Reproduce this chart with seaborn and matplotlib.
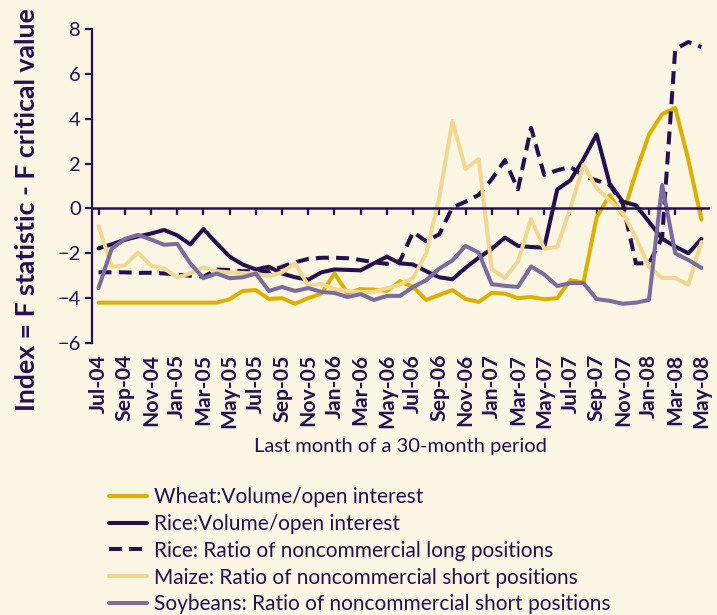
import numpy as np
import pandas as pd
import seaborn as sns
import matplotlib.pyplot as plt

# ---------------- data ----------------
tick_labels = ["Jul-04", "Sep-04", "Nov-04", "Jan-05", "Mar-05", "May-05",
               "Jul-05", "Sep-05", "Nov-05", "Jan-06", "Mar-06", "May-06",
               "Jul-06", "Sep-06", "Nov-06", "Jan-07", "Mar-07", "May-07",
               "Jul-07", "Sep-07", "Nov-07", "Jan-08", "Mar-08", "May-08"]

wheat_vol = [-4.2, -4.2, -4.2, -4.2, -4.2, -4.2, -4.2, -4.2, -4.2, -4.2,
             -4.05, -3.68, -3.64, -4.04, -4.0, -4.25, -4.0, -3.8, -2.9, -3.77,
             -3.6, -3.62, -3.68, -3.25, -3.5, -4.08, -3.86, -3.64, -4.04, -4.17,
             -3.77, -3.8, -4.0, -3.95, -4.05, -4.0, -3.2, -3.3, -0.4, 0.59,
             -0.3, 1.6, 3.3, 4.2, 4.48, 2.17, -0.5]

rice_vol = [-1.78, -1.6, -1.4, -1.25, -1.12, -0.96, -1.2, -1.6, -0.92, -1.55,
            -2.15, -2.5, -2.72, -2.6, -2.9, -3.07, -3.18, -2.85, -2.72, -2.74,
            -2.76, -2.45, -2.15, -2.45, -2.5, -2.8, -3.07, -3.16, -2.65, -2.2,
            -1.8, -1.3, -1.67, -1.72, -1.75, 0.85, 1.25, 2.2, 3.3, 1.1,
            0.3, 0.14, -0.6, -1.35, -1.7, -2.0, -1.36]

rice_long = [-2.85, -2.85, -2.85, -2.87, -2.87, -2.9, -2.95, -3.0, -3.05, -2.72,
             -2.75, -2.8, -2.8, -2.8, -2.6, -2.4, -2.25, -2.2, -2.2, -2.22,
             -2.3, -2.4, -2.47, -2.35, -1.05, -1.47, -1.15, 0.05, 0.3, 0.6,
             1.3, 2.15, 0.85, 3.6, 1.5, 1.7, 1.85, 1.45, 1.25, 1.05,
             0.2, -2.45, -2.45, -1.3, 7.1, 7.42, 7.2]

maize_short = [-0.78, -2.6, -2.55, -1.97, -2.55, -2.68, -3.07, -2.9, -2.63, -2.8,
               -2.85, -2.88, -2.9, -3.03, -2.85, -2.45, -3.43, -3.37, -3.6, -3.68,
               -3.73, -3.72, -3.56, -3.4, -3.1, -2.0, 0.5, 3.9, 1.76, 2.2,
               -2.7, -3.1, -2.37, -0.48, -1.8, -1.71, 0.0, 1.95, 0.9, 0.35,
               -0.2, -1.3, -2.6, -3.1, -3.1, -3.4, -1.5]

soy_short = [-3.55, -1.8, -1.36, -1.18, -1.38, -1.62, -1.58, -2.45, -3.11, -2.9,
             -3.11, -3.07, -2.9, -3.68, -3.5, -3.68, -3.55, -3.72, -3.77, -3.95,
             -3.82, -4.08, -3.9, -3.9, -3.5, -3.2, -2.68, -2.32, -1.67, -1.97,
             -3.38, -3.45, -3.5, -2.59, -2.94, -3.46, -3.33, -3.33, -4.04, -4.12,
             -4.25, -4.2, -4.08, 1.04, -2.0, -2.3, -2.65]

series_names = ["Wheat:Volume/open interest",
                "Rice:Volume/open interest",
                "Rice: Ratio of noncommercial long positions",
                "Maize: Ratio of noncommercial short positions",
                "Soybeans: Ratio of noncommercial short positions"]
series_values = [wheat_vol, rice_vol, rice_long, maize_short, soy_short]

# ---------------- style ----------------
BG = "#FBF5E3"
NAVY = "#24104F"
palette = {series_names[0]: "#DDB000",
           series_names[1]: NAVY,
           series_names[2]: NAVY,
           series_names[3]: "#F0D892",
           series_names[4]: "#7A6C9E"}
dashes = {series_names[0]: "",
          series_names[1]: "",
          series_names[2]: (3.2, 1.8),
          series_names[3]: "",
          series_names[4]: ""}

sns.set_theme(style="white")
plt.rcParams["font.family"] = ["Lato", "DejaVu Sans"]
plt.rcParams["text.color"] = NAVY

rows = []
for name, vals in zip(series_names, series_values):
    for i, v in enumerate(vals):
        rows.append({"month": i, "value": v, "series": name})
df = pd.DataFrame(rows)
n = len(wheat_vol)

fig = plt.figure(figsize=(7.17, 6.15), dpi=100, facecolor=BG)
ax = fig.add_axes([92 / 717, 1 - 343 / 615, (708 - 92) / 717, (343 - 29) / 615])
ax.set_facecolor(BG)

sns.lineplot(data=df, x="month", y="value", hue="series", style="series",
             hue_order=series_names, style_order=series_names,
             palette=palette, dashes=dashes, linewidth=2.9, ax=ax,
             legend=True)

handles, labels = ax.get_legend_handles_labels()
ax.get_legend().remove()
for h in handles:
    h.set_linewidth(2.9)

ax.set_xlim(-0.5, n - 0.5)
ax.set_ylim(-6, 8)
ax.set_yticks(range(-6, 9, 2))
ax.grid(False)

for s in ["top", "right"]:
    ax.spines[s].set_visible(False)
ax.spines["left"].set_color(NAVY)
ax.spines["left"].set_linewidth(1.6)
ax.spines["bottom"].set_position(("data", 0))
ax.spines["bottom"].set_color(NAVY)
ax.spines["bottom"].set_linewidth(1.8)

ticks = list(range(0, n, 2))
ax.set_xticks(ticks)
ax.tick_params(axis="x", direction="out", length=5, width=1.6, color=NAVY,
               labelbottom=False, bottom=True)
ax.tick_params(axis="y", direction="out", length=5, width=1.6, color=NAVY,
               labelsize=14.5, labelcolor=NAVY, pad=3, left=True)
ax.set_xlabel("")
ax.set_ylabel("Index = F statistic - F critical value", fontsize=19.2,
              fontweight="bold", color=NAVY)
ax.yaxis.set_label_coords(-0.086, 0.424)

sec = ax.secondary_xaxis("bottom")
sec.set_xticks(ticks, labels=tick_labels)
sec.tick_params(length=0, pad=8, labelsize=15.2, labelcolor=NAVY)
for lab in sec.get_xticklabels():
    lab.set_rotation(90)
    lab.set_fontweight("bold")
sec.spines["bottom"].set_visible(False)
sec.set_xlabel("Last month of a 30-month period", fontsize=14.5, color=NAVY,
               labelpad=7)

fig.legend(handles, labels, loc="upper left", bbox_to_anchor=(109 / 717, 1 - 487 / 615),
           frameon=False, fontsize=15, handlelength=1.8, handletextpad=0.35,
           labelspacing=0.33, borderpad=0, borderaxespad=0, labelcolor=NAVY)

fig.savefig("out.png", dpi=100, facecolor=BG)
